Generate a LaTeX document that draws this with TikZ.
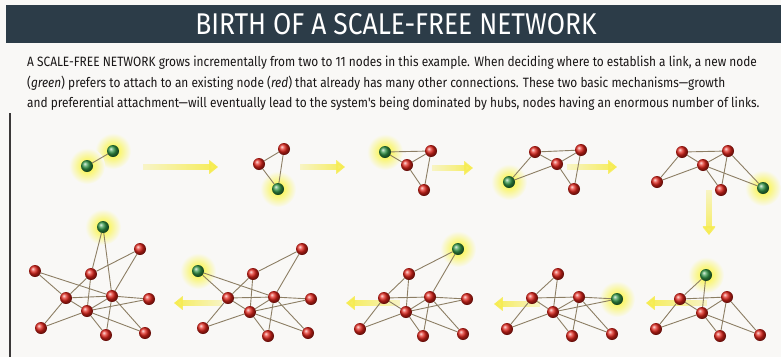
\documentclass[tikz,border=0pt]{standalone}
\usepackage{fontspec}
\setmainfont{Fira Sans}
\newfontfamily\titlefont[FakeStretch=0.88]{Fira Sans}
\newfontfamily\bodyfont[FakeStretch=0.88]{Fira Sans}
\usetikzlibrary{arrows.meta,fadings}

\definecolor{paper}{RGB}{249,248,246}
\definecolor{banner}{RGB}{44,60,72}
\definecolor{ink}{RGB}{25,22,22}
\definecolor{linkcol}{RGB}{140,126,100}
\definecolor{flowyellow}{RGB}{246,236,80}
\definecolor{hubred}{RGB}{225,35,25}
\definecolor{newgreen}{RGB}{50,150,70}
\definecolor{glowyellow}{RGB}{250,244,40}

\tikzfading[name=tailfade, left color=transparent!75, right color=transparent!0]

\tikzset{
  hub/.style={circle, inner sep=0pt, minimum size=12pt, ball color=hubred},
  newcomer/.style={circle, inner sep=0pt, minimum size=12pt, ball color=newgreen},
  halo/.style={circle, inner sep=0pt, minimum size=36pt, shading=radial,
    inner color=glowyellow, outer color=paper},
  link/.style={draw=linkcol, line width=0.9pt},
  flow/.style={draw=flowyellow, line width=6pt,
    -{Triangle[length=9pt,width=14pt]}, path fading=tailfade},
}

\begin{document}
\begin{tikzpicture}[x=1pt, y=-1pt]
  \useasboundingbox (0,0) rectangle (781,357);
  \fill[paper] (0,0) rectangle (781,357);

  % Banner and caption
  \fill[banner] (6,5) rectangle (781,43);
  \node[font=\titlefont\fontsize{30}{31}\selectfont, text=white] (title) at (396,24)
    {BIRTH OF A SCALE-FREE NETWORK};
  \node[anchor=north west, align=left, inner sep=0pt, text=ink,
    font=\bodyfont\fontsize{13.5}{20.5}\selectfont] (caption) at (27,56)
    {A SCALE-FREE NETWORK grows incrementally from two to 11 nodes in this example. When deciding where to establish a link, a new node\\
     (\textit{green}) prefers to attach to an existing node (\textit{red}) that already has many other connections. These two basic mechanisms\textemdash growth\\
     and preferential attachment\textemdash will eventually lead to the system's being dominated by hubs, nodes having an enormous number of links.};
  \draw[ink!85, line width=1.5pt] (10,113) -- (10,357);

  % Glow round the newcomers
  \node[halo] (glowb1) at (113,151) {};
  \node[halo] (glowc1) at (87,166) {};
  \node[halo] (glow2) at (278,189) {};
  \node[halo] (glow3) at (385,152) {};
  \node[halo] (glow4) at (509,182) {};
  \node[halo] (glow5) at (763,188) {};
  \node[halo] (glow6) at (706,275) {};
  \node[halo] (glow7) at (617,299) {};
  \node[halo] (glow8) at (458,249) {};
  \node[halo] (glow9) at (198,271) {};
  \node[halo] (glow10) at (103,227) {};

  % Growth arrows
  \coordinate (s1) at (143,167); \coordinate (t1) at (218,167);
  \coordinate (s2) at (300,167); \coordinate (t2) at (345,167);
  \coordinate (s3) at (432,168); \coordinate (t3) at (473,168);
  \coordinate (s4) at (567,167); \coordinate (t4) at (617,167);
  \coordinate (s5) at (709,190); \coordinate (t5) at (709,235);
  \coordinate (s6) at (707,303); \coordinate (t6) at (646,303);
  \coordinate (s7) at (540,304); \coordinate (t7) at (494,304);
  \coordinate (s8) at (400,303); \coordinate (t8) at (346,303);
  \coordinate (s9) at (222,303); \coordinate (t9) at (174,303);
  \foreach \k in {1,2,3,4} \draw[flow] (s\k) -- (t\k);
  \draw[flow, fading angle=-90] (s5) -- (t5);
  \foreach \k in {6,7,8,9} \draw[flow, fading angle=180] (s\k) -- (t\k);

  % Network 1
  \node[newcomer] (b1) at (glowb1) {};
  \node[newcomer] (c1) at (glowc1) {};
  \draw[link] (b1) -- (c1);

  % Network 2
  \node[hub] (b2) at (284,149) {};
  \node[hub] (c2) at (259,164) {};
  \node[newcomer] (e2) at (glow2) {};
  \foreach \u/\v in {b/c,b/e,c/e} \draw[link] (\u2) -- (\v2);

  % Network 3
  \node[newcomer] (a3) at (glow3) {};
  \node[hub] (b3) at (431,151) {};
  \node[hub] (c3) at (407,165) {};
  \node[hub] (e3) at (424,190) {};
  \foreach \u/\v in {b/c,b/e,c/e,a/b,a/c} \draw[link] (\u3) -- (\v3);

  % Network 4
  \node[hub] (a4) at (535,152) {};
  \node[hub] (b4) at (581,150) {};
  \node[hub] (c4) at (557,164) {};
  \node[newcomer] (d4) at (glow4) {};
  \node[hub] (e4) at (574,189) {};
  \foreach \u/\v in {b/c,b/e,c/e,a/b,a/c,d/a,d/c} \draw[link] (\u4) -- (\v4);

  % Network 5
  \node[hub] (a5) at (682,152) {};
  \node[hub] (b5) at (728,151) {};
  \node[hub] (c5) at (703,165) {};
  \node[hub] (d5) at (657,182) {};
  \node[hub] (e5) at (721,190) {};
  \node[newcomer] (f5) at (glow5) {};
  \foreach \u/\v in {b/c,b/e,c/e,a/b,a/c,d/a,d/c,f/b,f/c} \draw[link] (\u5) -- (\v5);

  % Network 6
  \node[newcomer] (g6) at (glow6) {};
  \node[hub] (a6) at (680,299) {};
  \node[hub] (b6) at (727,297) {};
  \node[hub] (c6) at (702,313) {};
  \node[hub] (d6) at (656,329) {};
  \node[hub] (e6) at (720,336) {};
  \node[hub] (f6) at (760,335) {};
  \foreach \u/\v in {b/c,b/e,c/e,a/b,a/c,d/a,d/c,f/b,f/c,g/a,g/c} \draw[link] (\u6) -- (\v6);

  % Network 7
  \node[hub] (g7) at (558,274) {};
  \node[hub] (a7) at (532,298) {};
  \node[hub] (b7) at (579,297) {};
  \node[hub] (c7) at (553,312) {};
  \node[hub] (d7) at (507,329) {};
  \node[hub] (e7) at (572,336) {};
  \node[hub] (f7) at (612,334) {};
  \node[newcomer] (h7) at (glow7) {};
  \foreach \u/\v in {b/c,b/e,c/e,a/b,a/c,d/a,d/c,f/b,f/c,g/a,g/c,h/b,h/c} \draw[link] (\u7) -- (\v7);

  % Network 8
  \node[newcomer] (i8) at (glow8) {};
  \node[hub] (g8) at (409,274) {};
  \node[hub] (a8) at (384,298) {};
  \node[hub] (b8) at (430,297) {};
  \node[hub] (c8) at (406,312) {};
  \node[hub] (d8) at (360,329) {};
  \node[hub] (e8) at (423,336) {};
  \node[hub] (f8) at (463,334) {};
  \node[hub] (h8) at (467,299) {};
  \foreach \u/\v in {b/c,b/e,c/e,a/b,a/c,d/a,d/c,f/b,f/c,g/a,g/c,h/b,h/c,i/g,i/b} \draw[link] (\u8) -- (\v8);

  % Network 9
  \node[newcomer] (j9) at (glow9) {};
  \node[hub] (g9) at (253,274) {};
  \node[hub] (a9) at (228,298) {};
  \node[hub] (b9) at (274,297) {};
  \node[hub] (c9) at (250,312) {};
  \node[hub] (d9) at (203,328) {};
  \node[hub] (e9) at (268,336) {};
  \node[hub] (f9) at (308,333) {};
  \node[hub] (h9) at (311,299) {};
  \node[hub] (i9) at (302,249) {};
  \foreach \u/\v in {b/c,b/e,c/e,a/b,a/c,d/a,d/c,f/b,f/c,g/a,g/c,h/b,h/c,i/g,i/b,j/a,j/b} \draw[link] (\u9) -- (\v9);

  % Network 10
  \node[newcomer] (k10) at (glow10) {};
  \node[hub] (i10) at (140,249) {};
  \node[hub] (j10) at (35,271) {};
  \node[hub] (g10) at (91,274) {};
  \node[hub] (a10) at (66,298) {};
  \node[hub] (b10) at (112,296) {};
  \node[hub] (h10) at (149,299) {};
  \node[hub] (c10) at (87,311) {};
  \node[hub] (d10) at (41,328) {};
  \node[hub] (e10) at (106,335) {};
  \node[hub] (f10) at (145,333) {};
  \foreach \u/\v in {b/c,b/e,c/e,a/b,a/c,d/a,d/c,f/b,f/c,g/a,g/c,h/b,h/c,i/g,i/b,j/a,j/b,k/g,k/b} \draw[link] (\u10) -- (\v10);
\end{tikzpicture}
\end{document}
